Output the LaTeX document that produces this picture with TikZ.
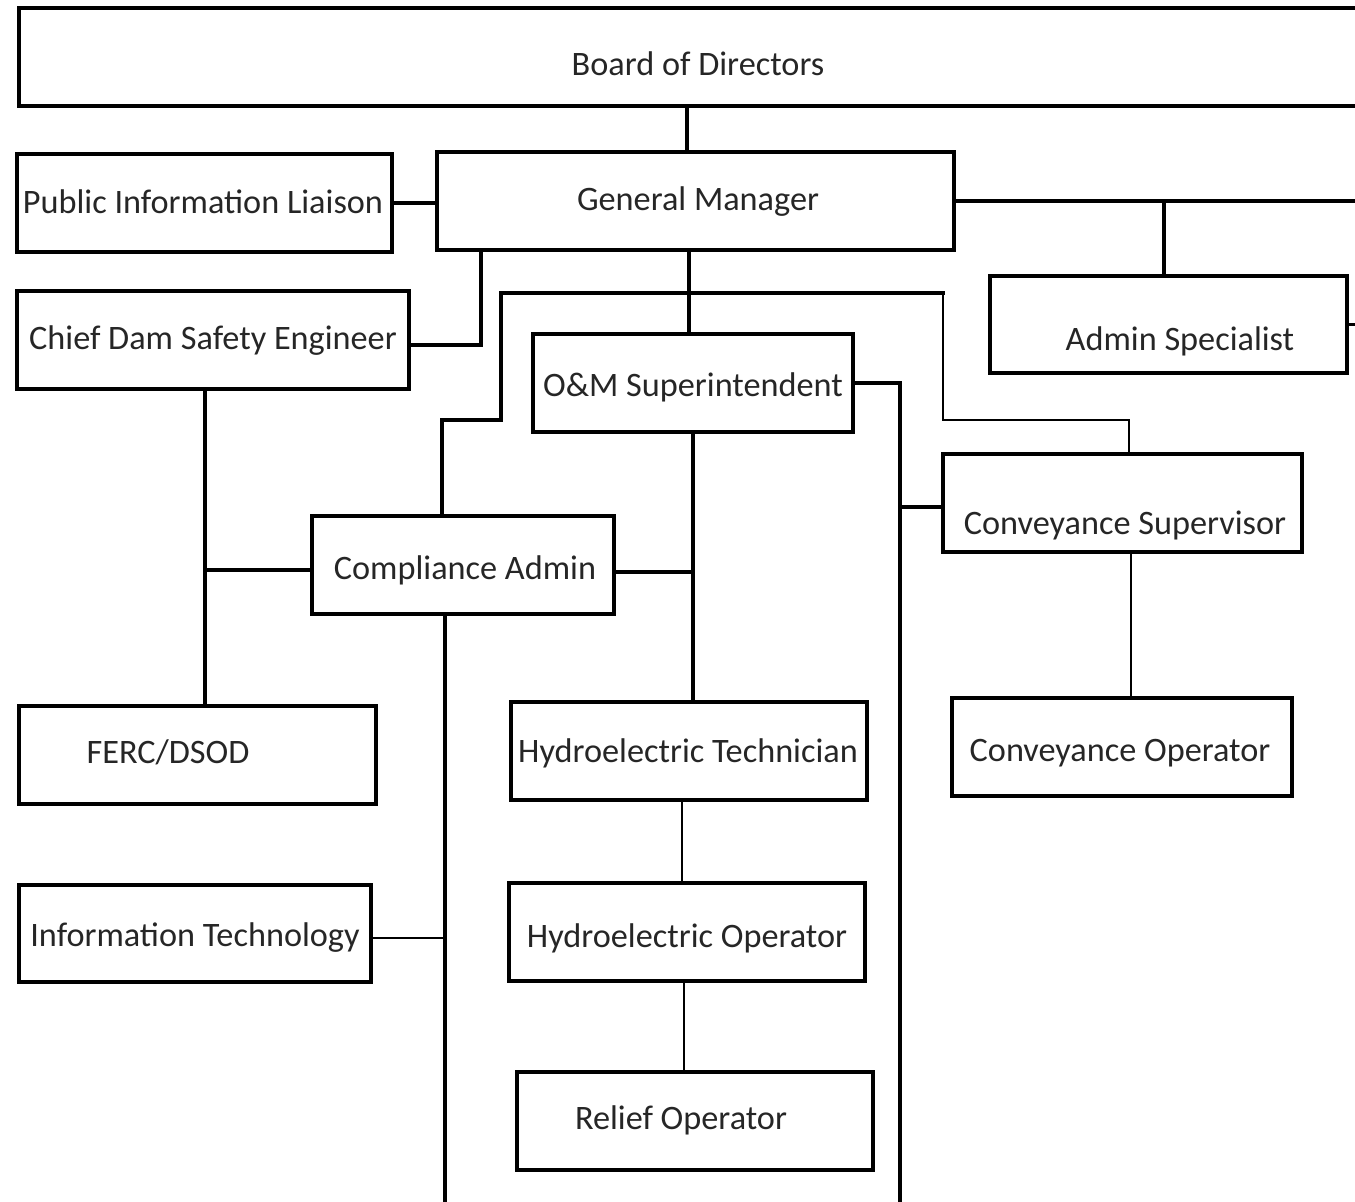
\documentclass[tikz,border=0pt]{standalone}
\usepackage{fontspec}
\setmainfont{Carlito}
\usepackage{tikz}
\usetikzlibrary{calc}
\definecolor{ink}{HTML}{000000}
\definecolor{txt}{HTML}{262626}
\tikzset{
  box/.style={draw=ink, line width=2pt, rectangle, inner sep=0pt},
  con/.style={draw=ink, line width=2pt, line cap=rect},
  thinc/.style={draw=ink, line width=1.2pt},
  lab/.style={text=txt, font=\fontsize{19.5}{23}\selectfont, inner sep=0pt, yshift=-2*0.02cm},
}

\begin{document}
\begin{tikzpicture}[x=0.02cm, y=-0.02cm]
  \def\u{0.02cm}
  \useasboundingbox (0,0) rectangle (1355,1201);
  \clip (0,0) rectangle (1355,1201);

  % boxes
  \node[box, minimum width=1360*\u, minimum height=98*\u] (bod)  at (699,57)     {};
  \node[box, minimum width=375*\u,  minimum height=98*\u] (pil)  at (204.5,203)  {};
  \node[box, minimum width=517*\u,  minimum height=98*\u] (gm)   at (695.5,201)  {};
  \node[box, minimum width=392*\u,  minimum height=98*\u] (cdse) at (213,340)    {};
  \node[box, minimum width=357*\u,  minimum height=97*\u] (adm)  at (1168.5,324.5) {};
  \node[box, minimum width=320*\u,  minimum height=98*\u] (om)   at (693,383)    {};
  \node[box, minimum width=359*\u,  minimum height=98*\u] (cs)   at (1122.5,503) {};
  \node[box, minimum width=302*\u,  minimum height=98*\u] (ca)   at (463,565)    {};
  \node[box, minimum width=357*\u,  minimum height=98*\u] (ferc) at (197.5,755)  {};
  \node[box, minimum width=356*\u,  minimum height=98*\u] (ht)   at (689,751)    {};
  \node[box, minimum width=340*\u,  minimum height=98*\u] (co)   at (1122,747)   {};
  \node[box, minimum width=352*\u,  minimum height=97*\u] (it)   at (195,933.5)  {};
  \node[box, minimum width=356*\u,  minimum height=98*\u] (ho)   at (687,932)    {};
  \node[box, minimum width=356*\u,  minimum height=98*\u] (ro)   at (695,1121)   {};

  % labels
  \node[lab] (bod-t)  at (698,62)   {Board of Directors};
  \node[lab] (pil-t)  at (203,200)  {Public Information Liaison};
  \node[lab] (gm-t)   at (698,200)  {General Manager};
  \node[lab] (cdse-t) at (213,339)  {Chief Dam Safety Engineer};
  \node[lab] (adm-t)  at (1180,339) {Admin Specialist};
  \node[lab] (om-t)   at (693,385)  {O\&M Superintendent};
  \node[lab] (cs-t)   at (1125,523) {Conveyance Supervisor};
  \node[lab] (ca-t)   at (465,568)  {Compliance Admin};
  \node[lab] (ferc-t) at (168,750)  {FERC/DSOD};
  \node[lab] (ht-t)   at (688,751)  {Hydroelectric Technician};
  \node[lab] (co-t)   at (1120,751) {Conveyance Operator};
  \node[lab] (it-t)   at (195,936)  {Information Technology};
  \node[lab] (ho-t)   at (687,936)  {Hydroelectric Operator};
  \node[lab] (ro-t)   at (681,1118) {Relief Operator};

  % free ends and bends
  \coordinate (offr) at (1380,202);
  \coordinate (busl) at (445,1220);
  \coordinate (busr) at (900,1220);
  \coordinate (gmj)  at (689,293);
  \coordinate (cdj)  at (205,570);

  % connectors
  \draw[con] (bod.south -| 687,0) -- (gm.north -| 687,0);
  \draw[con] (pil.east) -- (pil.east -| gm.west);
  \draw[con] (gm.east) -- (gm.east -| offr);
  \draw[con] (adm.north -| 1164,0) -- (gm.east -| 1164,0);
  \draw[thinc] (adm.east) -- +(40,0);
  \draw[con] (gm.south -| 481,0) |- (cdse.east |- 0,345);
  \draw[con] (gm.south -| gmj) -- (om.north -| gmj);
  \draw[con] (ca.north -| 442,0) |- (501,420) |- (gmj);
  \draw[con] (gmj) -- (943,293);
  \draw[thinc] (943,293) |- (1129,420) -- (cs.north -| 1129,0);
  \draw[con] (om.east) -| (busr);
  \draw[con] (cs.west |- 0,507) -- (busr |- 0,507);
  \draw[con] (om.south) -- (om.south |- ht.north);
  \draw[con] (ca.east |- 0,572) -- (om.south |- 0,572);
  \draw[con] (ca.south -| busl) -- (busl);
  \draw[thinc] (it.east |- 0,938) -- (busl |- 0,938);
  \draw[con] (cdse.south -| cdj) -- (ferc.north -| cdj);
  \draw[con] (ca.west |- cdj) -- (cdj);
  \draw[thinc] (ht.south -| 682,0) -- (ho.north -| 682,0);
  \draw[thinc] (ho.south -| 684,0) -- (ro.north -| 684,0);
  \draw[thinc] (cs.south -| 1131,0) -- (co.north -| 1131,0);
\end{tikzpicture}
\end{document}
